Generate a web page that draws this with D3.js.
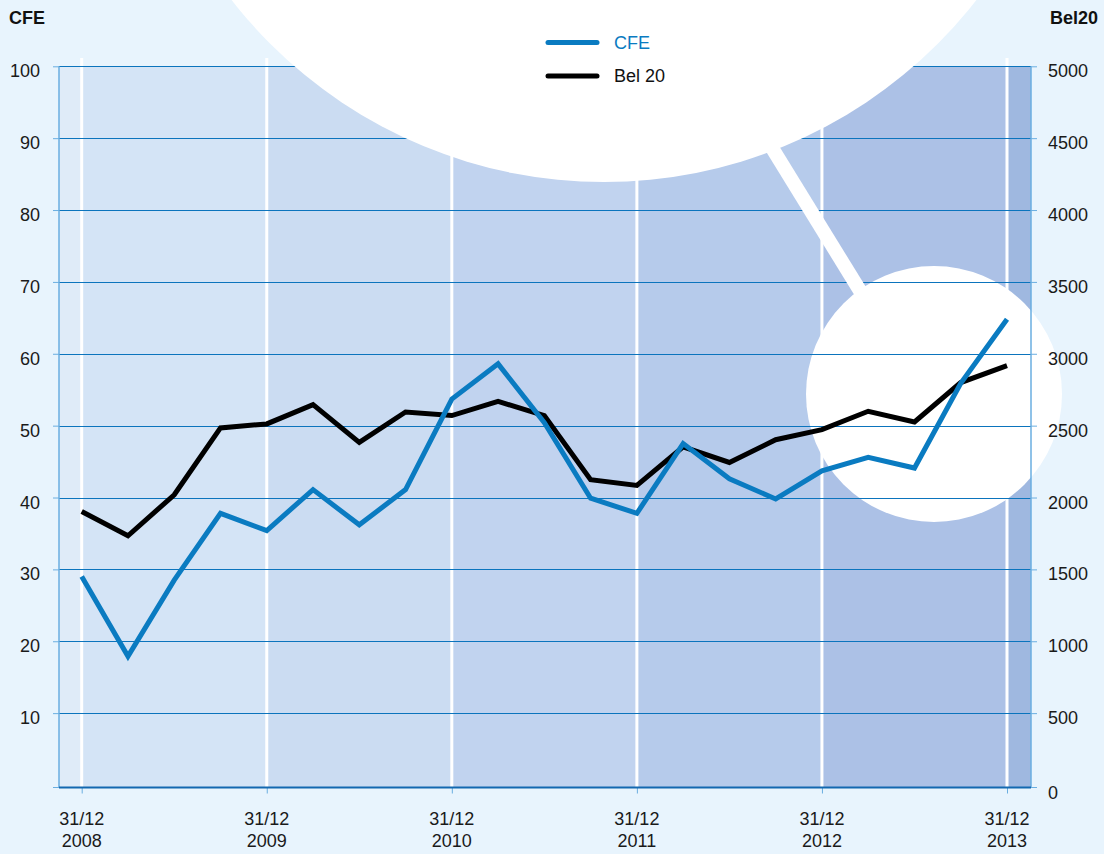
<!DOCTYPE html>
<html>
<head>
<meta charset="utf-8">
<script src="https://cdn.jsdelivr.net/npm/d3@7"></script>
<style>
  body { margin: 0; background: #e8f4fd; }
  svg { display: block; font-family: "Liberation Sans", Arial, Helvetica, sans-serif; }
</style>
</head>
<body>
<svg width="1104" height="854"></svg>
<script>
// quarterly closes, 31/12/2008 .. 31/12/2013
var quarters = d3.range(0, 21);
var cfe = [29.0, 17.9, 28.5, 37.8, 35.4, 41.1, 36.2, 41.1, 53.7, 58.6, 50.4,
           39.9, 37.8, 47.5, 42.6, 39.8, 43.7, 45.6, 44.1, 55.9, 64.8];
var bel20 = [1903, 1734, 2019, 2484, 2512, 2646, 2384, 2595, 2570, 2669, 2570,
             2124, 2084, 2352, 2244, 2402, 2472, 2600, 2526, 2800, 2918];
var yearTicks = [0, 4, 8, 12, 16, 20];
var yearLabels = ['2008', '2009', '2010', '2011', '2012', '2013'];
var leftTicks = [10, 20, 30, 40, 50, 60, 70, 80, 90, 100];
var rightTicks = [0, 500, 1000, 1500, 2000, 2500, 3000, 3500, 4000, 4500, 5000];
var bandColors = ['#dfebf8', '#d4e4f6', '#cbdcf2', '#c1d3ef', '#b6cbeb', '#acc1e6', '#9fb8e0'];

var svg = d3.select('svg');
var plot = { left: 59, right: 1031, top: 66.3, bottom: 787.5 };
var fs = 18;

var x = d3.scaleLinear().domain([0, 20]).range([81.7, 1007]);
var yL = d3.scaleLinear().domain([0, 100]).range([785, plot.top]);
var yR = d3.scaleLinear().domain([0, 5000]).range([785, plot.top]);

// background bands between the year lines
var edges = [plot.left].concat(yearTicks.map(function (d) { return x(d); }), [plot.right]);
svg.append('g').selectAll('rect')
    .data(bandColors)
    .enter().append('rect')
    .attr('x', function (d, i) { return edges[i]; })
    .attr('width', function (d, i) { return edges[i + 1] - edges[i]; })
    .attr('y', plot.top)
    .attr('height', plot.bottom - plot.top)
    .attr('fill', function (d) { return d; });

svg.append('g').selectAll('line')
    .data(yearTicks)
    .enter().append('line')
    .attr('x1', function (d) { return x(d); })
    .attr('x2', function (d) { return x(d); })
    .attr('y1', 58)
    .attr('y2', plot.bottom)
    .attr('stroke', '#fff')
    .attr('stroke-width', 3);

// magnifier circle (under the grid)
svg.append('circle')
    .attr('cx', 934).attr('cy', 394).attr('r', 128)
    .attr('fill', '#fff');

// grid
svg.append('g').selectAll('line')
    .data(leftTicks)
    .enter().append('line')
    .attr('x1', plot.left)
    .attr('x2', plot.right)
    .attr('y1', function (d) { return Math.round(yL(d)) + 0.5; })
    .attr('y2', function (d) { return Math.round(yL(d)) + 0.5; })
    .attr('stroke', '#0b74bd')
    .attr('stroke-width', 1);

// axes
var axisCol = '#6aaee0';
var la = svg.append('g')
    .attr('transform', 'translate(' + plot.left + ',0)')
    .call(d3.axisLeft(yL).tickValues(leftTicks.concat([0])).tickSize(6).tickFormat(''));
var ra = svg.append('g')
    .attr('transform', 'translate(' + plot.right + ',0)')
    .call(d3.axisRight(yR).tickValues(rightTicks).tickSize(6).tickFormat(''));
[la, ra].forEach(function (a) {
    a.select('.domain').remove();
    a.selectAll('line').attr('stroke', axisCol);
    a.selectAll('.tick').filter(function (d) { return d === 0; })
        .attr('transform', 'translate(0,' + plot.bottom + ')');
});
svg.append('line')
    .attr('x1', plot.left).attr('x2', plot.left)
    .attr('y1', plot.top).attr('y2', plot.bottom)
    .attr('stroke', axisCol).attr('stroke-width', 1.5);
svg.append('line')
    .attr('x1', plot.right).attr('x2', plot.right)
    .attr('y1', plot.top).attr('y2', plot.bottom)
    .attr('stroke', axisCol).attr('stroke-width', 1.5);

var xa = svg.append('g')
    .attr('transform', 'translate(0,' + plot.bottom + ')')
    .call(d3.axisBottom(x).tickValues(yearTicks).tickSize(6).tickFormat(''));
xa.select('.domain').remove();
xa.selectAll('line').attr('stroke', axisCol);
svg.append('line')
    .attr('x1', plot.left).attr('x2', plot.right)
    .attr('y1', plot.bottom).attr('y2', plot.bottom)
    .attr('stroke', '#1368b0').attr('stroke-width', 2);

// tick labels
var labCol = '#1a1a1a';
svg.append('g').selectAll('text')
    .data(leftTicks)
    .enter().append('text')
    .attr('x', 40)
    .attr('y', function (d) { return yL(d) + 11; })
    .attr('text-anchor', 'end')
    .attr('font-size', fs)
    .attr('fill', labCol)
    .text(function (d) { return d; });
svg.append('g').selectAll('text')
    .data(rightTicks)
    .enter().append('text')
    .attr('x', 1048)
    .attr('y', function (d) { return (d === 0 ? plot.bottom : yR(d)) + 11; })
    .attr('font-size', fs)
    .attr('fill', labCol)
    .text(function (d) { return d; });
var xl = svg.append('g').selectAll('text')
    .data(yearTicks)
    .enter().append('text')
    .attr('text-anchor', 'middle')
    .attr('font-size', fs)
    .attr('fill', labCol);
xl.append('tspan')
    .attr('x', function (d) { return x(d); })
    .attr('y', 825)
    .text('31/12');
xl.append('tspan')
    .attr('x', function (d) { return x(d); })
    .attr('y', 847)
    .text(function (d, i) { return yearLabels[i]; });

svg.append('text').attr('x', 9).attr('y', 24)
    .attr('font-size', fs).attr('font-weight', 'bold').attr('fill', '#111')
    .text('CFE');
svg.append('text').attr('x', 1098).attr('y', 24)
    .attr('text-anchor', 'end')
    .attr('font-size', fs).attr('font-weight', 'bold').attr('fill', '#111')
    .text('Bel20');

// series
var lineL = d3.line().x(function (d, i) { return x(quarters[i]); }).y(function (d) { return yL(d); });
var lineR = d3.line().x(function (d, i) { return x(quarters[i]); }).y(function (d) { return yR(d); });
svg.append('path').datum(bel20)
    .attr('d', lineR)
    .attr('fill', 'none').attr('stroke', '#000').attr('stroke-width', 5);
svg.append('path').datum(cfe)
    .attr('d', lineL)
    .attr('fill', 'none').attr('stroke', '#0a7bc1').attr('stroke-width', 5);

// connector and legend bubble
svg.append('line')
    .attr('x1', 740).attr('y1', 96)
    .attr('x2', 870).attr('y2', 307)
    .attr('stroke', '#fff').attr('stroke-width', 14);
svg.append('circle')
    .attr('cx', 604).attr('cy', -290).attr('r', 472)
    .attr('fill', '#fff');

var legend = [
    { name: 'CFE', color: '#0a7bc1', text: '#0a7bc1', y: 42.5 },
    { name: 'Bel 20', color: '#000', text: '#111', y: 76 }
];
var lg = svg.append('g').selectAll('g')
    .data(legend)
    .enter().append('g');
lg.append('line')
    .attr('x1', 548).attr('x2', 597)
    .attr('y1', function (d) { return d.y; })
    .attr('y2', function (d) { return d.y; })
    .attr('stroke', function (d) { return d.color; })
    .attr('stroke-width', 5)
    .attr('stroke-linecap', 'round');
lg.append('text')
    .attr('x', 614)
    .attr('y', function (d) { return d.y + 6; })
    .attr('font-size', fs)
    .attr('fill', function (d) { return d.text; })
    .text(function (d) { return d.name; });
</script>
</body>
</html>
